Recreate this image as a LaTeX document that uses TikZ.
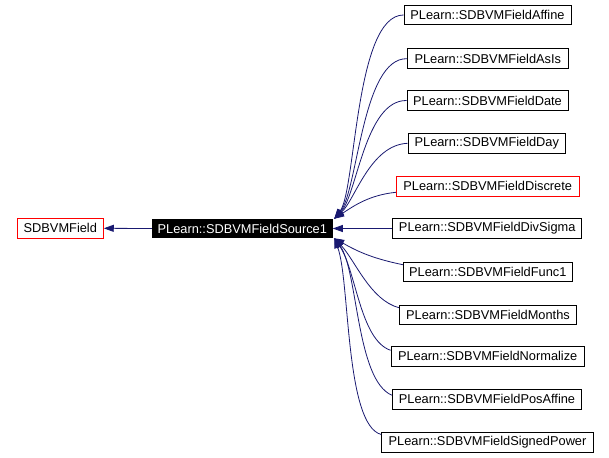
\documentclass[tikz,border=0pt]{standalone}
\usepackage{fontspec}
\setmainfont{Liberation Sans}
\usetikzlibrary{arrows.meta}
\definecolor{edgeblue}{HTML}{191970}
\begin{document}
\begin{tikzpicture}[x=1pt,y=-1pt,
  box/.style={draw=black,line width=0.9pt,fill=white,minimum height=19.5pt,inner sep=0pt,font=\fontsize{12.8}{14}\selectfont},
  redbox/.style={box,draw=red},
  blackbox/.style={box,fill=black,text=white,draw=black},
  edge/.style={draw=edgeblue,line width=0.8pt,-{Triangle[length=10pt,width=7pt]}}]
\useasboundingbox (0,0) rectangle (609,457);
\node[redbox,minimum width=86pt] (base) at (60.3,228.3) {SDBVMField};
\node[blackbox,minimum width=180pt,minimum height=18.5pt] (src) at (242.3,228.5) {PLearn::SDBVMFieldSource1};
\node[box,minimum width=167pt] (c1) at (487.5,15) {PLearn::SDBVMFieldAffine};
\node[box,minimum width=161pt] (c2) at (487.8,58.7) {PLearn::SDBVMFieldAsIs};
\node[box,minimum width=161pt] (c3) at (487.5,100.5) {PLearn::SDBVMFieldDate};
\node[box,minimum width=157.7pt] (c4) at (486.8,143.3) {PLearn::SDBVMFieldDay};
\node[redbox,minimum width=182.7pt] (c5) at (487.7,186.3) {PLearn::SDBVMFieldDiscrete};
\node[box,minimum width=189pt] (c6) at (487.2,228.5) {PLearn::SDBVMFieldDivSigma};
\node[box,minimum width=169pt] (c7) at (487.8,271.7) {PLearn::SDBVMFieldFunc1};
\node[box,minimum width=177.3pt] (c8) at (488,314.7) {PLearn::SDBVMFieldMonths};
\node[box,minimum width=193.3pt] (c9) at (487.7,356.3) {PLearn::SDBVMFieldNormalize};
\node[box,minimum width=189.4pt] (c10) at (487,399.2) {PLearn::SDBVMFieldPosAffine};
\node[box,minimum width=211.6pt] (c11) at (487.5,442.5) {PLearn::SDBVMFieldSignedPower};
\draw[edge] (src.west) -- (base.east);
\draw[edge] (c1.west) .. controls (355,15) and (356,190) .. ([xshift=1.5pt]src.north east);
\draw[edge] (c2.west) .. controls (362,58) and (358,190) .. ([xshift=1.5pt]src.north east);
\draw[edge] (c3.west) .. controls (365,100) and (357,195) .. ([xshift=1.5pt]src.north east);
\draw[edge] (c4.west) .. controls (370,145) and (355,200) .. ([xshift=1.5pt]src.north east);
\draw[edge] ([yshift=-6pt]c5.west) .. controls (370,195) and (355,205) .. ([xshift=1.5pt]src.north east);
\draw[edge] (c6.west) -- (src.east);
\draw[edge] ([yshift=7pt]c7.west) .. controls (370,258) and (355,250) .. ([xshift=1.5pt]src.south east);
\draw[edge] ([yshift=7pt]c8.west) .. controls (370,300) and (355,260) .. ([xshift=1.5pt]src.south east);
\draw[edge] ([yshift=6pt]c9.west) .. controls (360,340) and (356,270) .. ([xshift=1.5pt]src.south east);
\draw[edge] ([yshift=4pt]c10.west) .. controls (356,380) and (358,270) .. ([xshift=1.5pt]src.south east);
\draw[edge] ([yshift=8pt]c11.west) .. controls (345,425) and (350,280) .. ([xshift=1.5pt]src.south east);
\end{tikzpicture}
\end{document}
